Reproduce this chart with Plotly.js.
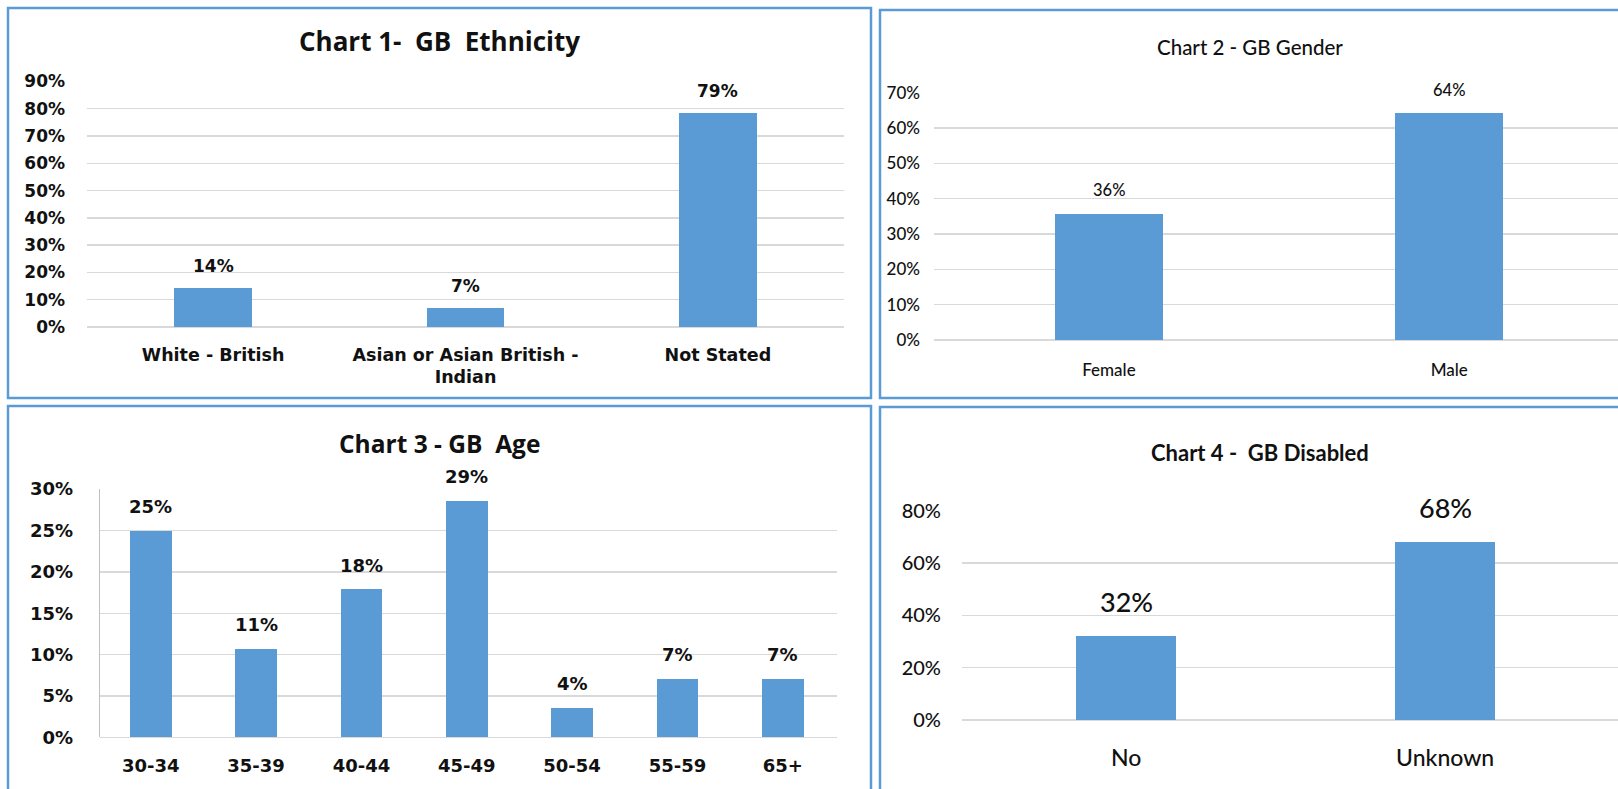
<!DOCTYPE html>
<html><head><meta charset="utf-8">
<script src="https://cdn.plot.ly/plotly-3.0.1.min.js"></script>
<style>html,body{margin:0;padding:0;background:#fff;overflow:hidden}#chart{width:1618px;height:789px}</style>
</head><body><div id="chart"></div>
<script>
// ---- data ----
const ethnicityCategories = ['White - British', 'Asian or Asian British -<br>Indian', 'Not Stated'];
const ethnicityValues = [0.143, 0.071, 0.786];
const genderCategories = ['Female', 'Male'];
const genderValues = [0.357, 0.643];
const ageCategories = ['30-34', '35-39', '40-44', '45-49', '50-54', '55-59', '65+'];
const ageValues = [0.25, 0.107, 0.179, 0.286, 0.036, 0.071, 0.071];
const disabledCategories = ['No', 'Unknown'];
const disabledValues = [0.321, 0.679];
const chartTitles = ['Chart 1-&nbsp; GB&nbsp; Ethnicity', 'Chart 2 - GB Gender', 'Chart 3 - GB&nbsp; Age', 'Chart 4 -&nbsp; GB Disabled'];
const ethnicityTicks = [0, 0.1, 0.2, 0.3, 0.4, 0.5, 0.6, 0.7, 0.8, 0.9];
const genderTicks = [0, 0.1, 0.2, 0.3, 0.4, 0.5, 0.6, 0.7];
const ageTicks = [0, 0.05, 0.1, 0.15, 0.2, 0.25, 0.3];
const disabledTicks = [0, 0.2, 0.4, 0.6, 0.8];

// ---- layout helpers ----
const W = 1618, H = 789;
const BLUE = '#5b9bd5', GRID = '#d9d9d9', TXT = '#111111';
const WIDE = 'DejaVu Sans, Verdana, sans-serif';
const CAL = 'Lato, Carlito, Calibri, sans-serif';
const OPEN = 'Open Sans, sans-serif';
const px = x => x / W;
const py = y => 1 - y / H;

const panels = [
  {cats: ethnicityCategories, vals: ethnicityValues, ticks: ethnicityTicks, title: chartTitles[0],
   xd: [87, 844], yd: [81.3, 327], xr: [-0.5, 2.5], yr: [0, 0.9005], barw: 0.309,
   titlePos: [439, 41], titleFont: {family: OPEN, size: 26, weight: 700, color: TXT},
   tickFont: {family: WIDE, size: 17, weight: 700, color: TXT}, xFont: {family: WIDE, size: 17.5, weight: 700, color: TXT},
   labFont: {family: WIDE, size: 17, weight: 700, color: TXT}, labShift: 22, yStand: 21, xStand: 15, axisLine: false},
  {cats: genderCategories, vals: genderValues, ticks: genderTicks, title: chartTitles[1],
   xd: [934, 1618], yd: [92.7, 340], xr: [-0.514, 1.496], yr: [0, 0.7005], barw: 0.318,
   titlePos: [1250, 47], titleFont: {family: CAL, size: 20.5, weight: 500, color: TXT},
   tickFont: {family: CAL, size: 17, weight: 500, color: TXT}, xFont: {family: CAL, size: 17, weight: 500, color: TXT},
   labFont: {family: CAL, size: 16.5, weight: 500, color: TXT}, labShift: 23.5, yStand: 13, xStand: 18, axisLine: false},
  {cats: ageCategories, vals: ageValues, ticks: ageTicks, title: chartTitles[2],
   xd: [100, 837], yd: [489, 737.3], xr: [-0.482, 6.515], yr: [0, 0.3002], barw: 0.396,
   titlePos: [439, 443], titleFont: {family: OPEN, size: 24.5, weight: 700, color: TXT},
   tickFont: {family: WIDE, size: 18, weight: 700, color: TXT}, xFont: {family: WIDE, size: 18, weight: 700, color: TXT},
   labFont: {family: WIDE, size: 18, weight: 700, color: TXT}, labShift: 24, yStand: 22, xStand: 16, axisLine: true},
  {cats: disabledCategories, vals: disabledValues, ticks: disabledTicks, title: chartTitles[3],
   xd: [962, 1618], yd: [510.7, 720], xr: [-0.515, 1.542], yr: [0, 0.8004], barw: 0.313,
   titlePos: [1260, 452], titleFont: {family: CAL, size: 22, weight: 700, color: TXT},
   tickFont: {family: CAL, size: 20, weight: 500, color: TXT}, xFont: {family: CAL, size: 23, weight: 500, color: TXT},
   labFont: {family: CAL, size: 27, weight: 500, color: TXT}, labShift: 35, yStand: 20, xStand: 22, axisLine: false}
];

const data = [];
const layout = {
  width: W, height: H, margin: {l: 0, r: 0, t: 0, b: 0},
  paper_bgcolor: '#fff', plot_bgcolor: 'rgba(0,0,0,0)', showlegend: false,
  annotations: [], shapes: [], bargap: 0
};

panels.forEach((p, i) => {
  const n = i === 0 ? '' : String(i + 1);
  const xa = 'x' + n, ya = 'y' + n;
  data.push({type: 'bar', x: p.cats, y: p.vals, xaxis: xa, yaxis: ya, width: p.barw,
    marker: {color: BLUE, line: {width: 0}}, hoverinfo: 'skip'});
  layout['xaxis' + n] = {domain: [px(p.xd[0]), px(p.xd[1])], range: p.xr, type: 'category', anchor: ya,
    showgrid: false, zeroline: false, showline: false, ticks: '', tickfont: p.xFont,
    ticklabelstandoff: p.xStand, fixedrange: true, tickangle: 0, automargin: false};
  layout['yaxis' + n] = {domain: [py(p.yd[1]), py(p.yd[0])], range: p.yr, anchor: xa,
    tickvals: p.ticks, tickformat: '.0%', showgrid: true, gridcolor: GRID, gridwidth: 1.4,
    zeroline: true, zerolinecolor: GRID, zerolinewidth: 1.4,
    showline: p.axisLine, linecolor: '#bfbfbf', linewidth: 1.3,
    ticks: '', tickfont: p.tickFont, ticklabelstandoff: p.yStand, fixedrange: true, automargin: false};
  layout.annotations.push({xref: 'paper', yref: 'paper', x: px(p.titlePos[0]), y: py(p.titlePos[1]),
    xanchor: 'center', yanchor: 'middle', text: p.title, showarrow: false, font: p.titleFont});
  p.cats.forEach((c, j) => {
    layout.annotations.push({xref: xa, yref: ya, x: c, y: p.vals[j], xanchor: 'center', yanchor: 'middle',
      yshift: p.labShift, text: Math.round(p.vals[j] * 100) + '%', showarrow: false, font: p.labFont});
  });
});

// panel borders
const borders = [[8, 8, 871, 398], [880, 10, 1630, 398], [8, 406, 871, 800], [880, 407, 1630, 800]];
borders.forEach(b => layout.shapes.push({type: 'rect', xref: 'paper', yref: 'paper',
  x0: px(b[0]), y0: py(b[3]), x1: px(b[2]), y1: py(b[1]), line: {color: BLUE, width: 2.5}, layer: 'above'}));

Plotly.newPlot('chart', data, layout, {displayModeBar: false, staticPlot: true});
</script></body></html>
